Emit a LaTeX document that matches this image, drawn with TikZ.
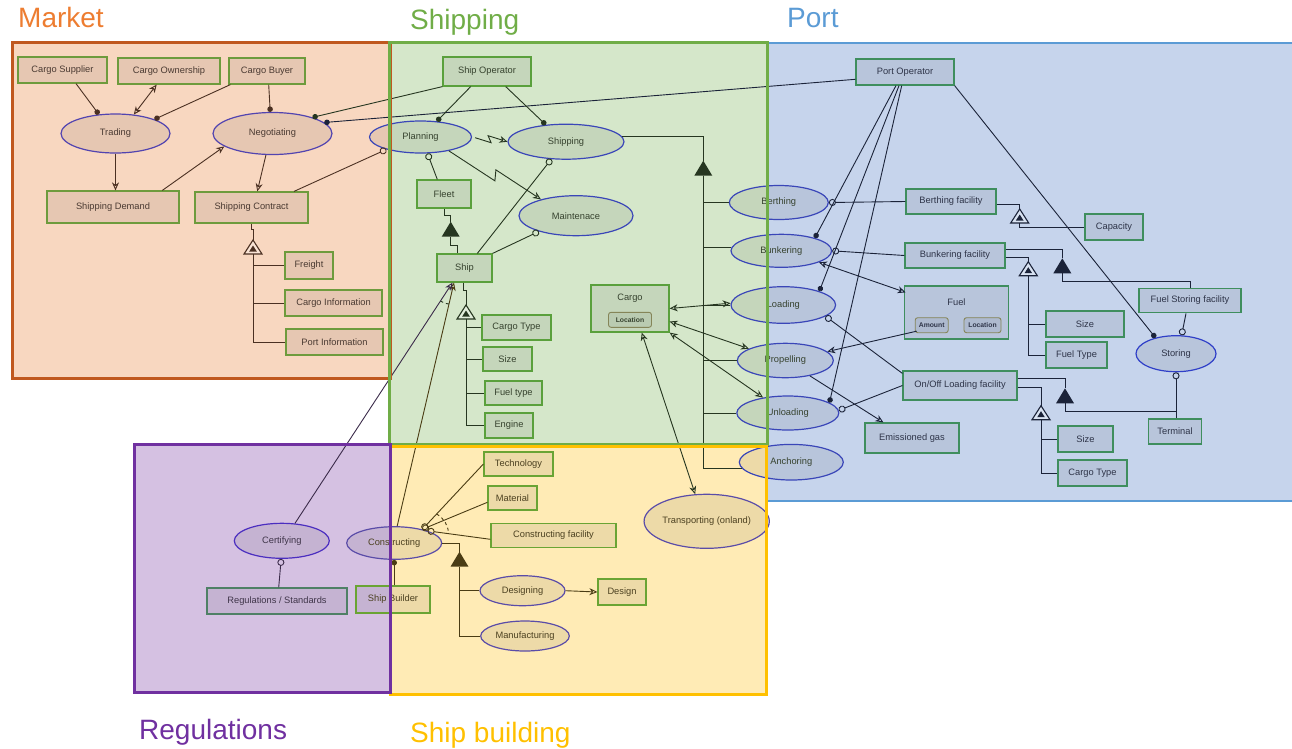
\documentclass[tikz,border=0pt]{standalone}
\usepackage{fontspec}
\setmainfont{Liberation Sans}
\usetikzlibrary{arrows.meta,shapes.geometric,calc}

% region colours
\definecolor{mkfill}{HTML}{F8D7C0}\definecolor{mkedge}{HTML}{C0581F}\definecolor{mktitle}{HTML}{ED7D31}
\definecolor{shfill}{HTML}{D5E7CA}\definecolor{shedge}{HTML}{70AD47}\definecolor{shtitle}{HTML}{70AD47}
\definecolor{ptfill}{HTML}{C6D4EC}\definecolor{ptedge}{HTML}{5B9BD5}\definecolor{pttitle}{HTML}{5B9BD5}
\definecolor{rgfill}{HTML}{D5C1E2}\definecolor{rgedge}{HTML}{7030A0}\definecolor{rgtitle}{HTML}{7030A0}
\definecolor{sbfill}{HTML}{FFEBB5}\definecolor{sbedge}{HTML}{FFC000}\definecolor{sbtitle}{HTML}{FFC000}
% connector colours
\definecolor{mkline}{HTML}{4B3022}\definecolor{shline}{HTML}{263620}\definecolor{ptline}{HTML}{1B2339}
\definecolor{rgline}{HTML}{3B2B4A}\definecolor{sbline}{HTML}{4A3C14}
% node border colours
\definecolor{mkbox}{HTML}{6E9B3D}\definecolor{shbox}{HTML}{5AA03C}\definecolor{ptbox}{HTML}{3F8E5E}
\definecolor{rgbox}{HTML}{4F8066}\definecolor{sbbox}{HTML}{6AA434}
\definecolor{mkell}{HTML}{5244B0}\definecolor{shell}{HTML}{3A46B8}\definecolor{ptell}{HTML}{2F3FC8}
\definecolor{rgell}{HTML}{4B2EC0}\definecolor{sbell}{HTML}{5A4CA8}
% text colours
\definecolor{mktext}{HTML}{4A3A32}\definecolor{shtext}{HTML}{36422E}\definecolor{pttext}{HTML}{2E3448}
\definecolor{rgtext}{HTML}{3F3549}\definecolor{sbtext}{HTML}{4B4020}
\definecolor{chipedge}{HTML}{858558}

\tikzset{
  nd/.style={inner sep=0, line width=1.2pt, fill=black, fill opacity=0.07, text opacity=1},
  bx/.style n args={2}{nd, rectangle, minimum width=#1, minimum height=#2},
  el/.style n args={2}{nd, ellipse, minimum width=#1, minimum height=#2},
  chip/.style n args={2}{rectangle, rounded corners=2.5pt, draw=chipedge, line width=0.9pt,
    fill=black, fill opacity=0.05, text opacity=1, inner sep=0,
    minimum width=#1, minimum height=#2, font=\fontsize{6.8}{8}\selectfont\bfseries},
}
\tikzset{
  mkb/.style={draw=mkbox,text=mktext}, mke/.style={draw=mkell,text=mktext},
  shb/.style={draw=shbox,text=shtext}, she/.style={draw=shell,text=shtext},
  ptb/.style={draw=ptbox,text=pttext}, pte/.style={draw=ptell,text=pttext},
  rgb/.style={draw=rgbox,text=rgtext}, rge/.style={draw=rgell,text=rgtext},
  sbb/.style={draw=sbbox,text=sbtext}, sbe/.style={draw=sbell,text=sbtext},
}
\tikzset{
  lmk/.style={draw=mkline, line width=0.9pt},
  lsh/.style={draw=shline, line width=0.9pt},
  lpt/.style={draw=ptline, line width=0.9pt},
  lrg/.style={draw=rgline, line width=0.9pt},
  lsb/.style={draw=sbline, line width=0.9pt},
  tiparr/.style={-{Stealth[open,length=8pt,width=7pt,inset=2.5pt]}},
  tiparr2/.style={{Stealth[open,length=8pt,width=7pt,inset=2.5pt]}-{Stealth[open,length=8pt,width=7pt,inset=2.5pt]}},
  tipdot/.style={-{Circle[length=5.5pt]}},
  tipdotb/.style={{Circle[length=5.5pt]}-},
  tipodot/.style={-{Circle[open,length=7pt]}},
  tipodotb/.style={{Circle[open,length=7pt]}-},
  ttl/.style={anchor=base west, inner sep=0, font=\fontsize{28}{31}\selectfont},
}
\tikzset{
  pics/ftri/.style={code={\fill (0,0) -- (-9,15) -- (9,15) -- cycle;
    \coordinate (-apex) at (0,0); \coordinate (-base) at (0,15);}},
  pics/htri/.style={code={\draw[line width=1.1pt, fill=white, fill opacity=0.35] (0,0) -- (-9,14) -- (9,14) -- cycle;
    \fill (0,5.5) -- (-3.8,11.5) -- (3.8,11.5) -- cycle;
    \coordinate (-apex) at (0,0); \coordinate (-base) at (0,14);}},
}

\begin{document}
\begin{tikzpicture}[x=1pt,y=-1pt,font=\fontsize{9.3}{11}\selectfont]
\useasboundingbox (0,0) rectangle (1292,748);

% ---------- region backgrounds ----------
\fill[mkfill] (12.3,42.7) rectangle (390,378);
\fill[ptfill] (767,42.7) rectangle (1292,501);
\fill[shfill] (389.5,42.7) rectangle (767,444);
\fill[rgfill] (134,444.5) rectangle (390,692);
\fill[sbfill] (390,446) rectangle (766.5,694.3);

% ---------- Market ----------
\node[bx={89}{26},mkb] (csup) at (62.5,70) {Cargo Supplier};
\node[bx={102}{26},mkb] (cown) at (169,71) {Cargo Ownership};
\node[bx={76}{26},mkb] (cbuy) at (267,71) {Cargo Buyer};
\node[el={109}{39},mke] (trad) at (115.5,133.5) {Trading};
\node[el={119}{42},mke] (nego) at (272.5,133.5) {Negotiating};
\node[bx={132}{32},mkb] (sdem) at (113,207) {Shipping Demand};
\node[bx={113}{31},mkb] (scon) at (251.5,207.5) {Shipping Contract};
\node[bx={48}{27},mkb] (frei) at (309,265.5) {Freight};
\node[bx={97}{26},mkb] (cinf) at (333.5,303) {Cargo Information};
\node[bx={97}{26},mkb] (pinf) at (334.5,342) {Port Information};

% ---------- Shipping ----------
\node[bx={88}{29},shb] (sop) at (487,71.5) {Ship Operator};
\node[el={102}{32},she] (plan) at (420.5,137) {Planning};
\node[el={116}{35},she] (shpg) at (566,141.7) {Shipping};
\node[bx={54}{28},shb] (flt) at (444,194) {Fleet};
\node[el={114}{40},she] (mnt) at (576,215.7) {Maintenace};
\node[bx={55}{28},shb] (ship) at (464.5,268) {Ship};
\node[bx={69}{25},shb] (ctyp) at (516.5,327.5) {Cargo Type};
\node[bx={49}{24},shb] (ssz) at (507.5,359) {Size};
\node[bx={57}{24},shb] (ftyp) at (513.5,393) {Fuel type};
\node[bx={48}{25},shb] (eng) at (509,425.5) {Engine};
\node[bx={78}{47},shb] (cargo) at (630,308.5) {};
\node[text=shtext, inner sep=0] (cargot) at (630,298) {Cargo};
\node[chip={43}{15}, text=shtext] (cloc) at (630,319.8) {Location};
\node[el={99}{34},she] (berth) at (778.8,202.5) {Berthing};
\node[el={100.6}{33},she] (bunk) at (781.3,250.8) {Bunkering};
\node[el={104.6}{36.6},she] (load) at (783.3,305) {Loading};
\node[el={96}{34.4},she] (prop) at (785.3,360.5) {Propelling};
\node[el={102}{34},she] (unld) at (787.8,413) {Unloading};
\node[el={104}{35.6},she] (anch) at (791.3,462.2) {Anchoring};

% ---------- Port ----------
\node[bx={98}{26},ptb] (pop) at (905,72) {Port Operator};
\node[bx={90}{25},ptb] (bfac) at (951,201.5) {Berthing facility};
\node[bx={58}{26},ptb] (capa) at (1114,227) {Capacity};
\node[bx={100}{25},ptb] (bkfac) at (955,255.5) {Bunkering facility};
\node[bx={104.5}{53},ptb] (fuel) at (956.5,312.5) {};
\node[text=pttext, inner sep=0] (fuelt) at (956.5,302.3) {Fuel};
\node[chip={33}{15}, text=pttext] (famt) at (931.7,325.2) {Amount};
\node[chip={37}{15}, text=pttext] (floc) at (982.5,325.2) {Location};
\node[bx={78}{26},ptb] (psz1) at (1085,324) {Size};
\node[bx={61}{26},ptb] (ftyp2) at (1076.5,355) {Fuel Type};
\node[bx={102}{24.5},ptb] (fsf) at (1190,300.5) {Fuel Storing facility};
\node[el={80}{36},pte] (stor) at (1176,353.7) {Storing};
\node[bx={114}{29},ptb] (onoff) at (960,385.5) {On/Off Loading facility};
\node[bx={94}{30},ptb] (emis) at (912,438) {Emissioned gas};
\node[bx={55}{26},ptb] (psz2) at (1085.5,439) {Size};
\node[bx={69}{26},ptb] (ctyp2) at (1092.5,473) {Cargo Type};
\node[bx={53}{25},ptb] (term) at (1175,431.5) {Terminal};

% ---------- Ship building ----------
\node[el={112}{54},sbe] (trans) at (706.7,521.3) {Transporting (onland)};
\node[bx={69}{24},sbb] (tech) at (518.5,464) {Technology};
\node[bx={49}{24},sbb] (mat) at (512.5,498) {Material};
\node[bx={125}{24},sbb] (cfac) at (553.5,535.5) {Constructing facility};
\node[el={95}{32.6},sbe] (cons) at (394.2,543) {Constructing};
\node[bx={74}{27},sbb] (sbld) at (393,599.5) {Ship Builder};
\node[el={85}{30},sbe] (desg) at (522.5,590.7) {Designing};
\node[bx={48}{26},sbb] (des) at (622,592) {Design};
\node[el={88.6}{30},sbe] (manu) at (525,636) {Manufacturing};

% ---------- Regulations ----------
\node[el={95}{35},rge] (cert) at (281.8,540.8) {Certifying};
\node[bx={140}{26},rgb] (regs) at (277,601) {Regulations / Standards};

% ---------- Market connectors ----------
\draw[lmk,tipdot] ($(csup.south)+(13.5,0)$) -- (trad.131);
\draw[lmk,tiparr2] ($(cown.south)+(-12.3,0)$) -- (trad.46);
\draw[lmk,tipdot] ($(cbuy.south west)+(2,0)$) -- (trad.20);
\draw[lmk,tipdot] ($(cbuy.south)+(1.7,0)$) -- (nego.96);
\draw[lmk,tiparr] (trad.south) -- (trad.south |- sdem.north);
\draw[lmk,tiparr] ($(sdem.north)+(49.3,0)$) -- (nego.195);
\draw[lmk,tiparr] (nego.253) -- ($(scon.north)+(5.8,0)$);
\draw[lmk,tipodot] ($(scon.north)+(42.5,0)$) -- (plan.200);
\pic[color=mkline] (t1) at (253,240) {htri};
\draw[lmk] (scon.south) -- ++(0,6) -| (t1-apex);
\draw[lmk] (t1-base) |- (frei.west);
\draw[lmk] (t1-base) |- (cinf.west);
\draw[lmk] (t1-base) |- (pinf.west);
\draw[lsh,tipdot] (sop.south west) -- (nego.22);
\draw[lpt,tipdot] ($(pop.west)+(0,7.3)$) -- (nego.12);

% ---------- Shipping connectors ----------
\draw[lsh,tipdot] ($(sop.south)+(-16.3,0)$) -- (plan.44);
\draw[lsh,tipdot] ($(sop.south)+(18.7,0)$) -- (shpg.140);
\draw[lsh,tiparr] ($(plan.east)+(3,0.7)$) -- ++(16,5) -- ++(-3,-7) -- (shpg.west);
\draw[lsh,tiparr] (plan.334) -- ++(46,30) -- ++(1,-11) -- (mnt.155);
\draw[lsh,tipodotb] (plan.293) -- ($(flt.north)+(-6.7,0)$);
\draw[lsh,tipodot] ($(ship.north)+(12.8,0)$) -- (shpg.230);
\draw[lsh,tipodot] (ship.north east) -- (mnt.203);
\pic[color=shline] (t2) at (450.7,221.7) {ftri};
\draw[lsh] ($(flt.south)+(0.3,0)$) -- ++(0,7) -| (t2-apex);
\draw[lsh] (t2-base) -- ++(0,8.3) -| ($(ship.north)+(-7.2,0)$);
\pic[color=shline] (t3) at (466,305) {htri};
\draw[lsh] ($(ship.south)+(-1.2,0)$) -- ++(0,8) -| (t3-apex);
\draw[lsh] (t3-base) |- (ctyp.west);
\draw[lsh] (t3-base) |- (ssz.west);
\draw[lsh] (t3-base) |- (ftyp.west);
\draw[lsh] (t3-base) |- (eng.west);
\pic[color=shline] (t4) at (703.3,160.7) {ftri};
\draw[lsh] (shpg.5) -| (t4-apex);
\draw[lsh] (t4-base) |- (berth.west);
\draw[lsh] (t4-base) |- (bunk.176);
\draw[lsh] (t4-base) |- (load.west);
\draw[lsh] (t4-base) |- (prop.west);
\draw[lsh] (t4-base) |- (unld.west);
\draw[lsh] (t4-base) |- (anch.187);
\draw[lsh,tiparr2] (cargo.east) -- (load.178);
\draw[lsh,tiparr2] ($(cargo.east)+(0,13)$) -- (prop.162);
\draw[lsh,tiparr2] (cargo.south east) -- (unld.148);
\draw[lsh,tiparr2] (trans.113) -- ($(cargo.south)+(11.7,0)$);

% ---------- Port connectors ----------
\draw[lpt,tipdot] ($(pop.south)+(-9,0)$) -- (bunk.21);
\draw[lpt,tipdot] ($(pop.south)+(-6,0)$) -- (load.21);
\draw[lpt,tipdot] ($(pop.south)+(-3.3,0)$) -- (unld.14);
\draw[lpt,tipdot] (pop.south east) -- (stor.142);
\draw[lpt,tipodotb] (berth.east) -- (bfac.west);
\draw[lpt,tipodotb] (bunk.east) -- (bkfac.west);
\draw[lpt,tiparr2] (bunk.343) -- ($(fuel.north west)+(2,7)$);
\draw[lpt,tiparr] ($(famt.south west)+(2,-2)$) -- (prop.12);
\draw[lpt,tipodotb] (load.345) -- ($(onoff.north west)+(0,3)$);
\draw[lpt,tipodotb] (unld.3) -- (onoff.west);
\draw[lpt,tiparr] (prop.328) -- ($(emis.north west)+(19,0)$);
\pic[color=ptline] (t7) at (1019.7,209) {htri};
\draw[lpt] ($(bfac.east)+(0,3.2)$) -| (t7-apex);
\draw[lpt] (t7-base) |- (capa.west);
\pic[color=ptline] (t5) at (1062.3,258.3) {ftri};
\draw[lpt] ($(bkfac.north east)+(0,7.3)$) -| (t5-apex);
\draw[lpt] (t5-base) -- ++(0,7.7) -| (fsf.north);
\pic[color=ptline] (t6) at (1028.3,261.7) {htri};
\draw[lpt] ($(bkfac.south east)+(0,-11)$) -| (t6-apex);
\draw[lpt] (t6-base) |- (psz1.west);
\draw[lpt] (t6-base) |- (ftyp2.west);
\pic[color=ptline] (t8) at (1065,388.3) {ftri};
\draw[lpt] ($(onoff.north east)+(0,8.3)$) -| (t8-apex);
\coordinate (tj) at ($(stor.south |- term.north)+(0,-7.3)$);
\draw[lpt] (t8-base) |- (tj);
\draw[lpt,tipodotb] (stor.south) -- (stor.south |- term.north);
\pic[color=ptline] (t9) at (1041,405.7) {htri};
\draw[lpt] ($(onoff.east)+(0,1.8)$) -| (t9-apex);
\draw[lpt] (t9-base) |- (psz2.west);
\draw[lpt] (t9-base) |- (ctyp2.west);
\draw[lpt,tipodot] ($(fsf.south)+(-4,0)$) -- (stor.73);

% ---------- Ship building and regulation connectors ----------
\coordinate (sa) at ($(ship.south)+(-12,0)$);
\coordinate (sb) at ($(ship.south)+(-10.5,0)$);
\draw[lsb,tipdotb] (cons.south) -- (cons.south |- sbld.north);
\draw[lsb,tiparr] (cons.80) -- (sb);
\draw[lrg,tiparr] (cert.53) -- (sa);
\draw[lsh,dashed] ($(sa)!22pt!(cert.53)$) to[bend right=15] ($(sb)!22pt!(cons.80)$);
\coordinate (cf1) at (cons.26);
\coordinate (cf2) at (cons.20);
\draw[lsb,tipodotb] (cf1) -- (tech.west);
\draw[lsb,tipodotb] (cf1) -- ($(mat.west)+(0,4.3)$);
\draw[lsb,tipodotb] (cf2) -- ($(cfac.west)+(0,3.8)$);
\draw[lsb,dashed] ($(cf1)!21pt!(tech.west)$) to[bend left=25] ($(cf2)!21pt!(cfac.west)$);
\pic[color=sbline] (t10) at (459.5,551.7) {ftri};
\draw[lsb] (cons.east) -| (t10-apex);
\draw[lsb] (t10-base) |- (desg.west);
\draw[lsb] (t10-base) |- (manu.west);
\draw[lsb,tiparr] (desg.east) -- (des.west);
\draw[lrg,tipodotb] (cert.268) -- ($(regs.north)+(1.7,0)$);

% ---------- region frames ----------
\draw[mkedge, line width=3pt] (12.3,42.7) rectangle (390,378);
\draw[ptedge, line width=2pt] (1294,42.7) -- (767,42.7) -- (767,501) -- (1294,501);
\draw[shedge, line width=3pt] (389.5,42.7) rectangle (767,444);
\draw[sbedge, line width=3pt] (390,446) rectangle (766.5,694.3);
\draw[rgedge, line width=3pt] (134,444.5) rectangle (390,692);

% ---------- region titles ----------
\node[ttl, text=mktitle] (tmk) at (18,27) {Market};
\node[ttl, text=shtitle] (tsh) at (410,29) {Shipping};
\node[ttl, text=pttitle] (tpt) at (787,27) {Port};
\node[ttl, text=rgtitle] (trg) at (139,739) {Regulations};
\node[ttl, text=sbtitle] (tsb) at (410,742) {Ship building};
\end{tikzpicture}
\end{document}
